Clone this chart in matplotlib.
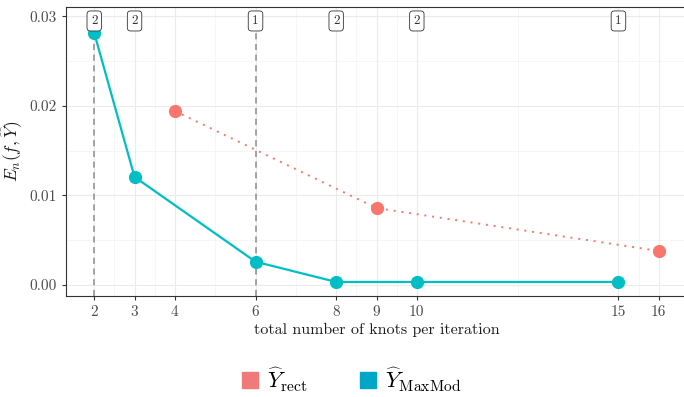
import matplotlib
matplotlib.use('Agg')
import matplotlib.pyplot as plt
from matplotlib.lines import Line2D

plt.rcParams['font.family'] = 'serif'
plt.rcParams['font.serif'] = ['cmr10', 'DejaVu Serif']
plt.rcParams['mathtext.fontset'] = 'cm'
plt.rcParams['axes.formatter.use_mathtext'] = True

# data
knots_maxmod = [2, 3, 6, 8, 10, 15]
err_maxmod = [0.02816, 0.01207, 0.00260, 0.00034, 0.00034, 0.00034]
knots_rect = [4, 9, 16]
err_rect = [0.01944, 0.00860, 0.00380]
vlines_x = [2, 6]
count_x = [2, 3, 6, 8, 10, 15]
count_lab = ['2', '2', '1', '2', '2', '1']
xticks = [2, 3, 4, 6, 8, 9, 10, 15, 16]
yticks = [0.00, 0.01, 0.02, 0.03]

col_rect = '#F8766D'
col_mm = '#00BFC4'

fig = plt.figure(figsize=(6.84, 3.97), dpi=100)
ax = fig.add_axes([66/684, 1 - 296/397, (687 - 66)/684, (296 - 7)/397])

ax.set_xlim(1.3, 16.7)
ax.set_ylim(-0.00123, 0.03106)

# grid like theme_bw
minor_x = [2.5, 3.5, 5, 7, 8.5, 9.5, 12.5, 15.5]
minor_y = [0.005, 0.015, 0.025]
for v in minor_x:
    ax.axvline(v, color='#F3F3F3', lw=0.5, zorder=0)
for v in minor_y:
    ax.axhline(v, color='#F3F3F3', lw=0.5, zorder=0)
for v in xticks:
    ax.axvline(v, color='#EBEBEB', lw=0.8, zorder=0)
for v in yticks:
    ax.axhline(v, color='#EBEBEB', lw=0.8, zorder=0)

for v in vlines_x:
    ax.axvline(v, color='#8C8C8C', lw=1.1, ls=(0, (4, 3)), zorder=1)

ax.plot(knots_rect, err_rect, color=col_rect, lw=1.4, ls=(0, (1, 3)), zorder=2)
ax.plot(knots_rect, err_rect, 'o', color=col_rect, ms=8.5, zorder=3)
ax.plot(knots_maxmod, err_maxmod, color=col_mm, lw=1.6, zorder=2)
ax.plot(knots_maxmod, err_maxmod, 'o', color=col_mm, ms=8.5, zorder=3)

for x, s in zip(count_x, count_lab):
    ax.text(x, 0.0295, s, ha='center', va='center', fontsize=9.5, color='#333333',
            bbox=dict(boxstyle='round,pad=0.3,rounding_size=0.25', fc='white', ec='#333333', lw=0.6),
            zorder=4)

ax.set_xticks(xticks)
ax.set_xticklabels([str(t) for t in xticks])
ax.set_yticks(yticks)
ax.set_yticklabels(['0.00', '0.01', '0.02', '0.03'])
ax.tick_params(axis='both', colors='#333333', labelsize=11, length=3, width=0.8)
ax.tick_params(axis='both', labelcolor='#4D4D4D')
for sp in ax.spines.values():
    sp.set_color('#333333')
    sp.set_linewidth(0.8)

ax.set_xlabel('total number of knots per iteration', fontsize=11.5, color='#1A1A1A', labelpad=3)
ax.set_ylabel(r'$E_n(f,\widehat{Y})$', fontsize=12.5, color='#1A1A1A', labelpad=4)

handles = [Line2D([], [], marker='s', ls='none', color='#F07A7A', ms=12),
           Line2D([], [], marker='s', ls='none', color='#00A6C8', ms=12)]
fig.legend(handles, [r'$\widehat{Y}_{\mathrm{rect}}$', r'$\widehat{Y}_{\mathrm{MaxMod}}$'],
           loc='center', bbox_to_anchor=(350/684, 1 - 380/397), ncol=2, frameon=False,
           fontsize=16, handletextpad=0.25, columnspacing=2.2, handlelength=1.0)

fig.savefig('out.png', dpi=100)
